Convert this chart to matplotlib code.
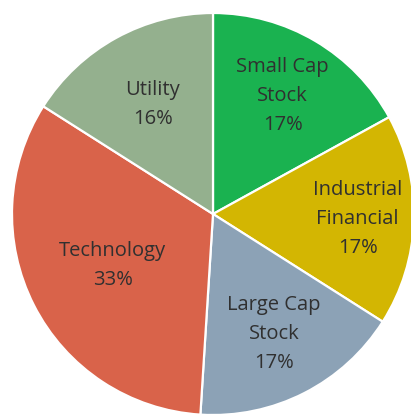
import numpy as np
import matplotlib
matplotlib.use("Agg")
import matplotlib.pyplot as plt

# Portfolio allocation (percent)
categories = ["Small Cap\nStock", "Industrial\nFinancial", "Large Cap\nStock", "Technology", "Utility"]
shares = [17, 17, 17, 33, 16]
colors = ["#1AB250", "#D3B602", "#8CA2B6", "#D9634A", "#94B08E"]

# distance of each label from the centre, as a fraction of the radius
label_radius = [0.68, 0.72, 0.67, 0.56, 0.62]

plt.rcParams["font.family"] = ["Open Sans", "DejaVu Sans"]

W, H, DPI = 411, 420, 100
fig = plt.figure(figsize=(W / DPI, H / DPI), dpi=DPI)
ax = fig.add_axes([0, 0, 1, 1])

R_PX = 201.0
cx, cy = 213.0, 214.0  # pixel centre (from top-left)

wedges, _ = ax.pie(
    shares,
    colors=colors,
    startangle=90,
    counterclock=False,
    radius=1.0,
    center=(0, 0),
    wedgeprops=dict(edgecolor="white", linewidth=1.6),
)

for w, name, share, rf in zip(wedges, categories, shares, label_radius):
    mid = np.deg2rad((w.theta1 + w.theta2) / 2)
    x, y = rf * np.cos(mid), rf * np.sin(mid)
    ax.text(x, y, f"{name}\n{share}%", ha="center", va="center",
            fontsize=14.5, color="#303030", linespacing=1.6)

ax.set_xlim(-cx / R_PX, (W - cx) / R_PX)
ax.set_ylim(-(H - cy) / R_PX, cy / R_PX)
ax.set_aspect("auto")
ax.axis("off")

fig.savefig("out.png", dpi=DPI, facecolor="white")
